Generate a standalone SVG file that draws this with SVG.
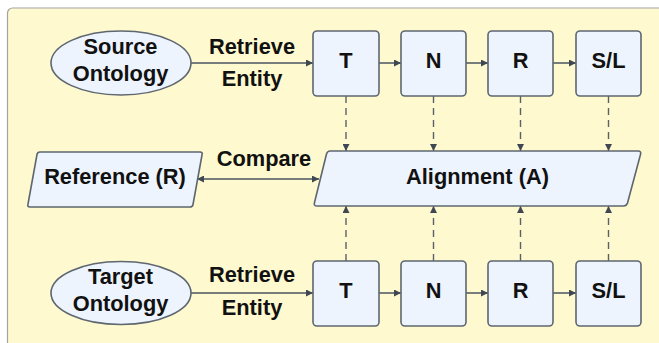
<svg xmlns="http://www.w3.org/2000/svg" width="659" height="343" viewBox="0 0 659 343">
<defs>
<style>
.node{fill:#EDF4FE;stroke:#5E6670;stroke-width:1.6}
.t{font-family:"Liberation Sans",Arial,sans-serif;font-weight:bold;font-size:21.8px;fill:#111;text-anchor:middle}
.c{stroke:#4A5260;stroke-width:1.5;fill:none}
.d{stroke:#5A616B;stroke-width:1.4;fill:none;stroke-dasharray:7 5}
</style>
<marker id="ah" viewBox="0 0 10 10" refX="10" refY="5" markerWidth="9" markerHeight="7" markerUnits="userSpaceOnUse" orient="auto-start-reverse">
<path d="M0,0 L10,5 L0,10 z" fill="#3F4753"/>
</marker>
</defs>
<rect x="0" y="0" width="659" height="343" fill="#FFFFFF"/>
<rect x="7.5" y="8" width="720" height="420" rx="5" fill="#FEF9CF" stroke="#A3A3A3" stroke-width="1.2"/>

<g id="connectors">
<line class="c" x1="191" y1="63" x2="313" y2="63" marker-end="url(#ah)"/>
<line class="c" x1="379" y1="63" x2="401" y2="63" marker-end="url(#ah)"/>
<line class="c" x1="466" y1="63" x2="488" y2="63" marker-end="url(#ah)"/>
<line class="c" x1="553" y1="63" x2="576" y2="63" marker-end="url(#ah)"/>
<line class="c" x1="191" y1="293" x2="313" y2="293" marker-end="url(#ah)"/>
<line class="c" x1="379" y1="293" x2="401" y2="293" marker-end="url(#ah)"/>
<line class="c" x1="466" y1="293" x2="488" y2="293" marker-end="url(#ah)"/>
<line class="c" x1="553" y1="293" x2="576" y2="293" marker-end="url(#ah)"/>
<line class="c" x1="197" y1="179" x2="319" y2="179" marker-start="url(#ah)" marker-end="url(#ah)"/>
<line class="d" x1="346" y1="96" x2="346" y2="151" marker-end="url(#ah)"/>
<line class="d" x1="433.5" y1="96" x2="433.5" y2="151" marker-end="url(#ah)"/>
<line class="d" x1="520.5" y1="96" x2="520.5" y2="151" marker-end="url(#ah)"/>
<line class="d" x1="608.5" y1="96" x2="608.5" y2="151" marker-end="url(#ah)"/>
<line class="d" x1="346" y1="261" x2="346" y2="206" marker-end="url(#ah)"/>
<line class="d" x1="433.5" y1="261" x2="433.5" y2="206" marker-end="url(#ah)"/>
<line class="d" x1="520.5" y1="261" x2="520.5" y2="206" marker-end="url(#ah)"/>
<line class="d" x1="608.5" y1="261" x2="608.5" y2="206" marker-end="url(#ah)"/>
<text class="t" x="252" y="53.5">Retrieve</text>
<text class="t" x="252" y="85.5">Entity</text>
<text class="t" x="252" y="282">Retrieve</text>
<text class="t" x="252" y="315">Entity</text>
<text class="t" x="264" y="165.5">Compare</text>
</g>

<g id="source">
<ellipse class="node" cx="121" cy="63" rx="70" ry="32"/>
<text class="t" x="120.5" y="54">Source</text>
<text class="t" x="120.5" y="81">Ontology</text>
</g>
<g id="target">
<ellipse class="node" cx="121" cy="293" rx="70" ry="31.5"/>
<text class="t" x="120.5" y="284">Target</text>
<text class="t" x="120.5" y="311">Ontology</text>
</g>

<g id="src-T"><rect class="node" x="313" y="31" width="66" height="65" rx="4"/><text class="t" x="346" y="68">T</text></g>
<g id="src-N"><rect class="node" x="401" y="31" width="65" height="65" rx="4"/><text class="t" x="433.5" y="68">N</text></g>
<g id="src-R"><rect class="node" x="488" y="31" width="65" height="65" rx="4"/><text class="t" x="520.5" y="68">R</text></g>
<g id="src-SL"><rect class="node" x="576" y="31" width="65" height="65" rx="4"/><text class="t" x="608.5" y="68">S/L</text></g>

<g id="tgt-T"><rect class="node" x="313" y="261" width="66" height="65" rx="4"/><text class="t" x="346" y="298">T</text></g>
<g id="tgt-N"><rect class="node" x="401" y="261" width="65" height="65" rx="4"/><text class="t" x="433.5" y="298">N</text></g>
<g id="tgt-R"><rect class="node" x="488" y="261" width="65" height="65" rx="4"/><text class="t" x="520.5" y="298">R</text></g>
<g id="tgt-SL"><rect class="node" x="576" y="261" width="65" height="65" rx="4"/><text class="t" x="608.5" y="298">S/L</text></g>

<g id="reference">
<path class="node" d="M40,152 L200,152 Q203,152 202,155 L193,204.5 Q192.5,207 190,207 L30,207 Q27,207 28,204 L37,154.5 Q37.5,152 40,152 Z" stroke-linejoin="round"/>
<text class="t" x="115" y="184">Reference (R)</text>
</g>
<g id="alignment">
<path class="node" d="M330,151 L638,151 Q641.5,151 640.5,154.5 L627.5,203 Q626.5,206 623.5,206 L317,206 Q313.5,206 314.5,202.5 L326.5,154 Q327.5,151 330,151 Z" stroke-linejoin="round"/>
<text class="t" x="477.5" y="184">Alignment (A)</text>
</g>
</svg>
